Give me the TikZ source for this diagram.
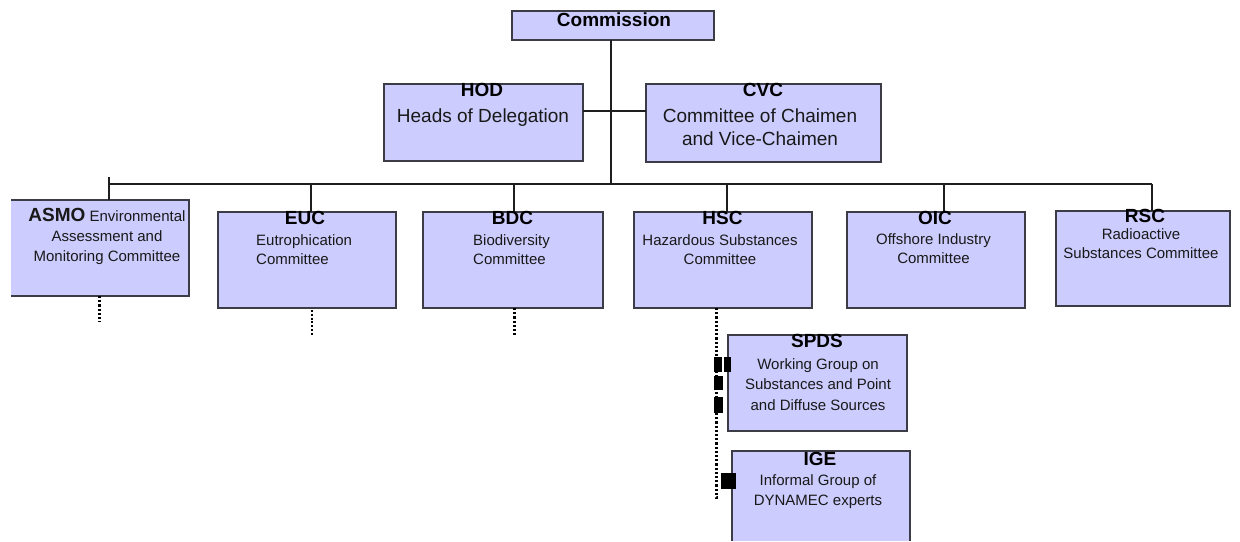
\documentclass[tikz,border=0pt]{standalone}
\usepackage{fontspec}
\setmainfont{Liberation Sans}
\definecolor{boxfill}{RGB}{204,204,255}
\definecolor{boxline}{RGB}{60,60,70}
\definecolor{linec}{RGB}{30,30,30}
\definecolor{txtc}{RGB}{25,25,25}
\tikzset{
  box/.style={draw=boxline, fill=boxfill, line width=1.4pt, inner sep=0pt, outer sep=0pt},
  boxnb/.style={fill=boxfill, inner sep=0pt, outer sep=0pt},
  edge3/.style={draw=boxline, line width=1.4pt},
  ttl/.style={font=\bfseries\fontsize{19}{23}\selectfont, inner sep=0pt, anchor=north, text=black},
  bdy/.style={font=\fontsize{15}{19.5}\selectfont, inner sep=0pt, anchor=north, align=center, text=txtc},
  bdybig/.style={font=\fontsize{19}{23}\selectfont, inner sep=0pt, anchor=north, align=center, text=txtc},
  conn/.style={draw=linec, line width=1.2pt},
  dotsthick/.style={draw=black, line width=3pt, dash pattern=on 2.2pt off 2pt},
  dotsthin/.style={draw=black, line width=2pt, dash pattern=on 2pt off 1.8pt},
}
\begin{document}
\begin{tikzpicture}[x=1pt,y=-1pt]
\useasboundingbox (0,0) rectangle (1240,541);
\fill[white] (0,0) rectangle (1240,541);

% ---------- boxes ----------
\node[box, minimum width=202, minimum height=29] (commission) at (613,25.5) {};
\node[box, minimum width=199, minimum height=77] (hod) at (483.5,122.5) {};
\node[box, minimum width=235, minimum height=78] (cvc) at (763.5,123) {};
\node[boxnb, minimum width=178, minimum height=96] (asmo) at (100,248) {};
\draw[edge3] (asmo.north west) -- (asmo.north east) -- (asmo.south east) -- (asmo.south west);
\node[box, minimum width=178, minimum height=96] (euc) at (307,260) {};
\node[box, minimum width=180, minimum height=96] (bdc) at (513,260) {};
\node[box, minimum width=178, minimum height=96] (hsc) at (723,260) {};
\node[box, minimum width=178, minimum height=96] (oic) at (936,260) {};
\node[box, minimum width=174, minimum height=95] (rsc) at (1143,258.5) {};
\node[box, minimum width=179, minimum height=96] (spds) at (817.5,383) {};
\node[boxnb, minimum width=178, minimum height=90] (ige) at (821,496) {};
\draw[edge3] (ige.south west) -- (ige.north west) -- (ige.north east) -- (ige.south east);

% ---------- connectors ----------
\coordinate (trunk) at (611,184);
\coordinate (hc) at (0,111);
\coordinate (busL) at (109,184);
\coordinate (busR) at (1152,184);
\coordinate (asmotop) at (109,177);
\coordinate (eucbus) at (311,184);
\coordinate (bdcbus) at (514,184);
\coordinate (hscbus) at (727,184);
\coordinate (oicbus) at (944,184);

\draw[conn] (commission.south -| trunk) -- (trunk);
\draw[conn] (hod.east |- hc) -- (cvc.west |- hc);
\draw[conn] (busL) -- (busR);
\draw[conn] (asmotop) -- (asmotop |- asmo.north);
\draw[conn] (eucbus) -- (eucbus |- euc.north);
\draw[conn] (bdcbus) -- (bdcbus |- bdc.north);
\draw[conn] (hscbus) -- (hscbus |- hsc.north);
\draw[conn] (oicbus) -- (oicbus |- oic.north);
\draw[conn] (busR) -- (busR |- rsc.north);

% ---------- dotted stubs ----------
\coordinate (asmod) at (99,322);
\coordinate (eucd) at (312,336);
\coordinate (bdcd) at (514,336);
\coordinate (hscd) at (716,497);
\coordinate (hsce) at (720,497);
\draw[dotsthick] (asmod |- asmo.south) -- (asmod);
\draw[dotsthin] ([yshift=-2pt]eucd |- euc.south) -- (eucd);
\draw[dotsthick] (bdcd |- bdc.south) -- (bdcd);
\draw[dotsthick] (hscd |- hsc.south) -- (hscd) -- (hsce);

% black marks beside the sub-group boxes
\fill[black] (714,357) rectangle (722,372);
\fill[black] (724,357) rectangle (731,372);
\fill[black] (714,376) rectangle (723,390);
\fill[black] (714,397) rectangle (723,413);
\fill[black] (721,473) rectangle (736,489);

% ---------- texts ----------
\node[ttl] (commission-t) at (614,12.3) {Commission};

\node[ttl] (hod-t) at (482,83.3) {HOD};
\node[bdybig] (hod-b) at (483,108.3) {Heads of Delegation};

\node[ttl] (cvc-t) at (763,83.3) {CVC};
\node[bdybig] (cvc-b) at (760,108.3) {Committee of Chaimen\\and Vice-Chaimen};

\node[bdy, font=\fontsize{15}{20}\selectfont] (asmo-t) at (107,208.3)
  {{\bfseries\fontsize{19}{20}\selectfont ASMO} Environmental\\Assessment and\\Monitoring Committee};

\node[ttl] (euc-t) at (305,211.3) {EUC};
\node[bdy, anchor=north west, align=left, font=\fontsize{15}{19.5}\selectfont] (euc-b) at (256,234.2) {Eutrophication\\Committee};

\node[ttl] (bdc-t) at (512.5,211.3) {BDC};
\node[bdy, anchor=north west, align=left, font=\fontsize{15}{19.5}\selectfont] (bdc-b) at (473,234.2) {Biodiversity\\Committee};

\node[ttl] (hsc-t) at (722.5,211.3) {HSC};
\node[bdy] (hsc-b) at (720,234.2) {Hazardous Substances\\Committee};

\node[ttl] (oic-t) at (935,211.3) {OIC};
\node[bdy] (oic-b) at (933.5,233.2) {Offshore Industry\\Committee};

\node[ttl] (rsc-t) at (1145,209.5) {RSC};
\node[bdy] (rsc-b) at (1141,228.2) {Radioactive\\Substances Committee};

\node[ttl] (spds-t) at (817,334.3) {SPDS};
\node[bdy, font=\fontsize{15}{20.5}\selectfont] (spds-b) at (818,358.2) {Working Group on\\Substances and Point\\and Diffuse Sources};

\node[ttl] (ige-t) at (820,452.3) {IGE};
\node[bdy, font=\fontsize{15}{20}\selectfont] (ige-b) at (818,474.2) {Informal Group of\\DYNAMEC experts};
\end{tikzpicture}
\end{document}
